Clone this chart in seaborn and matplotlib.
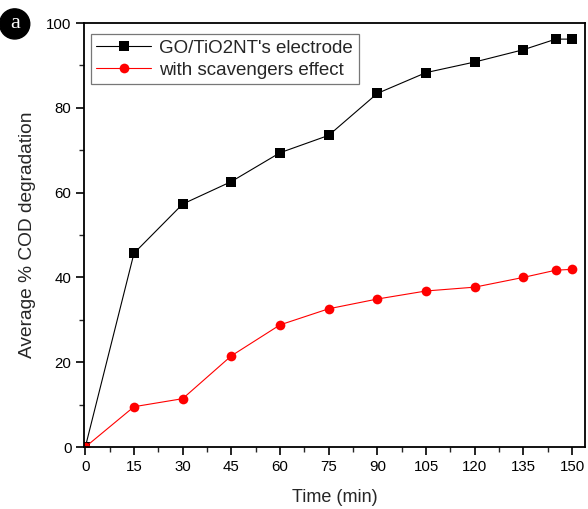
import matplotlib
matplotlib.use("Agg")
import matplotlib.pyplot as plt
import seaborn as sns
import pandas as pd
from matplotlib.ticker import MultipleLocator

# Sampling times (min)
time_electrode = [0, 15, 30, 45, 60, 75, 90, 105, 120, 135, 145, 150]
time_scavenger = [0, 15, 30, 45, 60, 75, 90, 105, 120, 135, 145, 150]

# Average % COD degradation
cod_electrode = [0, 45.7, 57.3, 62.6, 69.4, 73.5, 83.4, 88.3, 90.8, 93.7, 96.2, 96.2]
cod_scavenger = [0, 9.5, 11.4, 21.5, 28.8, 32.6, 34.9, 36.8, 37.7, 40.0, 41.7, 41.9]

series_names = ["GO/TiO2NT's electrode", "with scavengers effect"]
x_ticks = [0, 15, 30, 45, 60, 75, 90, 105, 120, 135, 150]
y_ticks = [0, 20, 40, 60, 80, 100]

sns.set_style("ticks")
plt.rcParams["font.family"] = ["Liberation Sans", "DejaVu Sans"]

df = pd.concat([
    pd.DataFrame({"time": time_electrode, "cod": cod_electrode, "series": series_names[0]}),
    pd.DataFrame({"time": time_scavenger, "cod": cod_scavenger, "series": series_names[1]}),
])

fig = plt.figure(figsize=(5.88, 5.09), dpi=100)
ax = fig.add_axes([0.1429, 0.1218, 0.852, 0.833])

sns.lineplot(
    data=df, x="time", y="cod", hue="series", style="series",
    palette={series_names[0]: "black", series_names[1]: "#ff0000"},
    markers={series_names[0]: "s", series_names[1]: "o"},
    dashes=False, markersize=7, markeredgewidth=0, linewidth=0.8,
    ax=ax, legend=True,
)

ax.set_xlim(-0.4, 154)
ax.set_ylim(0, 100)
ax.set_xticks(x_ticks)
ax.set_yticks(y_ticks)
ax.xaxis.set_minor_locator(MultipleLocator(7.5))
ax.yaxis.set_minor_locator(MultipleLocator(10))
ax.tick_params(which="major", direction="out", length=6, width=1.2,
               labelsize=10.8, colors="black", pad=3)
ax.tick_params(which="minor", direction="out", length=3.5, width=1.0)
ax.tick_params(top=False, right=False, which="both")
for s in ax.spines.values():
    s.set_linewidth(1.3)
    s.set_color("black")

ax.set_xlabel("Time (min)", fontsize=13, labelpad=11)
ax.set_ylabel("Average % COD degradation", fontsize=13.8, labelpad=7)

leg = ax.legend(loc="upper left", bbox_to_anchor=(0.006, 0.983), fontsize=13.5,
                frameon=True, fancybox=False, edgecolor="#555555",
                handlelength=2.9, handletextpad=0.45, borderpad=0.3,
                labelspacing=0.25, borderaxespad=0.2)
leg.get_frame().set_linewidth(0.9)

fig.text(0.025, 0.953, "a", ha="center", va="center", color="white",
         fontsize=16, family=["Liberation Serif", "DejaVu Serif"],
         bbox=dict(boxstyle="circle,pad=0.25", fc="black", ec="black"))

fig.savefig("out.png", dpi=100, facecolor="white")
